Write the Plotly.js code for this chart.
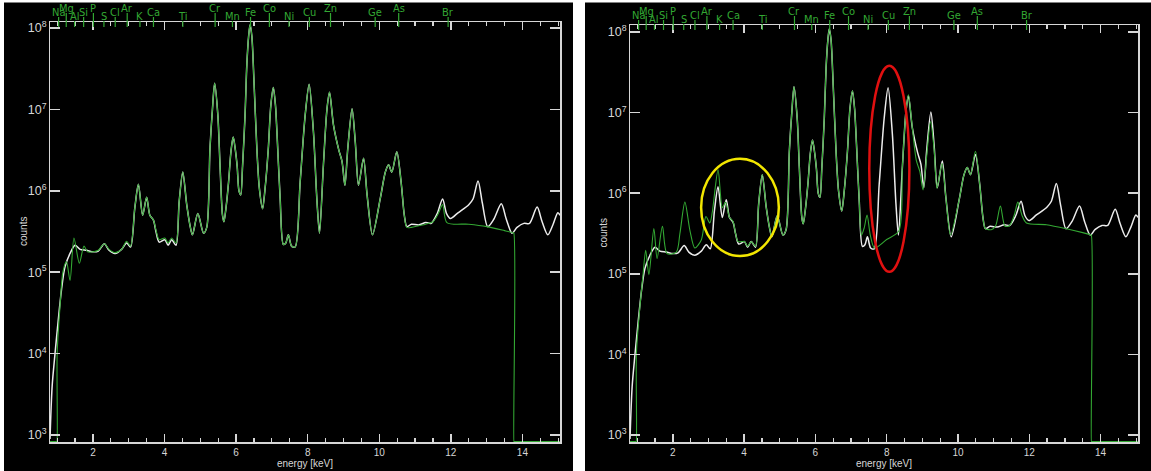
<!DOCTYPE html>
<html>
<head>
<meta charset="utf-8">
<script src="https://cdn.plot.ly/plotly-3.0.1.min.js"></script>
<style>
  html, body { margin: 0; padding: 0; background: #ffffff; }
  #chart { width: 1151px; height: 471px; }
</style>
</head>
<body>
<div id="chart"></div>
<script>
// Measured XRF spectrum (white), shared by both panels
const measuredEnergy = [
  0.80, 0.86, 0.94, 1.03, 1.12, 1.22, 1.36, 1.50, 1.64, 1.82, 2.01, 2.15, 2.32, 2.45, 2.62, 2.80, 2.94, 3.05,
  3.17, 3.27, 3.39, 3.50, 3.59, 3.69, 3.76, 3.85, 4.01, 4.10, 4.20, 4.32, 4.41, 4.51, 4.62, 4.71, 4.78, 4.93,
  5.09, 5.18, 5.27, 5.34, 5.40, 5.49, 5.55, 5.62, 5.66, 5.72, 5.79, 5.86, 5.92, 5.98, 6.03, 6.08, 6.13, 6.18,
  6.25, 6.30, 6.35, 6.39, 6.44, 6.50, 6.58, 6.65, 6.74, 6.81, 6.90, 6.97, 7.04, 7.10, 7.14, 7.23, 7.32, 7.39,
  7.46, 7.55, 7.65, 7.79, 7.93, 8.04, 8.16, 8.26, 8.33, 8.44, 8.54, 8.61, 8.72, 8.87, 8.96, 9.04, 9.12, 9.24,
  9.33, 9.42, 9.56, 9.66, 9.81, 10.03, 10.17, 10.26, 10.35, 10.49, 10.61, 10.70, 10.77, 10.90, 11.10, 11.30,
  11.45, 11.62, 11.77, 11.88, 11.99, 12.20, 12.50, 12.62, 12.76, 12.88, 13.03, 13.20, 13.41, 13.55, 13.71,
  13.85, 14.04, 14.20, 14.41, 14.55, 14.71, 14.85, 14.99, 15.05
];
const measuredCounts = [
  891, 3980, 1.0e4, 2.57e4, 6.03e4, 1.17e5, 1.70e5, 2.14e5, 1.91e5, 1.86e5, 1.78e5, 1.82e5, 2.24e5, 1.86e5, 1.70e5, 1.91e5, 2.29e5, 2.04e5,
  6.17e5, 1.20e6, 5.01e5, 8.32e5, 5.01e5, 4.37e5, 3.16e5, 2.34e5, 2.51e5, 2.14e5, 2.51e5, 2.14e5, 7.41e5, 1.70e6, 6.76e5, 3.80e5, 2.88e5, 5.25e5,
  3.02e5, 3.55e5, 3.31e6, 1.02e7, 2.09e7, 8.51e6, 2.09e6, 5.01e5, 4.17e5, 6.31e5, 1.29e6, 3.16e6, 4.57e6, 3.16e6, 2.0e6, 1.0e6, 8.91e5, 2.0e6,
  8.51e6, 3.55e7, 7.94e7, 1.10e8, 7.94e7, 2.19e7, 3.31e6, 1.07e6, 6.03e5, 1.07e6, 3.31e6, 1.12e7, 1.86e7, 1.12e7, 5.37e6, 8.13e5, 2.19e5, 2.29e5,
  2.88e5, 2.09e5, 2.04e5, 1.29e6, 8.51e6, 2.04e7, 5.37e6, 7.41e5, 3.02e5, 2.09e6, 1.02e7, 1.62e7, 6.46e6, 3.16e6, 2.29e6, 1.17e6, 3.31e6, 1.02e7,
  3.98e6, 1.17e6, 2.51e6, 8.91e5, 2.88e5, 8.13e5, 1.70e6, 2.09e6, 1.70e6, 3.02e6, 1.29e6, 5.01e5, 3.63e5, 3.89e5, 3.80e5, 4.07e5,
  3.98e5, 5.25e5, 7.94e5, 5.25e5, 4.57e5, 5.37e5, 6.76e5, 7.94e5, 1.32e6, 7.08e5, 3.63e5, 4.47e5, 6.92e5, 4.47e5, 3.02e5,
  3.55e5, 3.98e5, 3.98e5, 6.31e5, 4.17e5, 2.88e5, 3.80e5, 5.37e5, 5.01e5
];

// Model spectrum, first fit (green, left panel)
const fitAEnergy = [
  0.80, 0.99, 0.995, 1.00, 1.08, 1.16, 1.26, 1.36, 1.47, 1.62, 1.75, 1.85, 2.01, 2.15, 2.32, 2.45, 2.62, 2.80, 2.94, 3.05,
  3.17, 3.27, 3.39, 3.50, 3.59, 3.69, 3.76, 3.85, 4.01, 4.10, 4.20, 4.32, 4.41, 4.51, 4.62, 4.71, 4.78, 4.93,
  5.09, 5.18, 5.27, 5.34, 5.40, 5.49, 5.55, 5.62, 5.66, 5.72, 5.79, 5.86, 5.92, 5.98, 6.03, 6.08, 6.13, 6.18,
  6.25, 6.30, 6.35, 6.39, 6.44, 6.50, 6.58, 6.65, 6.74, 6.81, 6.90, 6.97, 7.04, 7.10, 7.14, 7.23, 7.32, 7.39,
  7.46, 7.55, 7.65, 7.79, 7.93, 8.04, 8.16, 8.26, 8.33, 8.44, 8.54, 8.61, 8.72, 8.87, 8.96, 9.04, 9.12, 9.24,
  9.33, 9.42, 9.56, 9.66, 9.81, 10.03, 10.17, 10.26, 10.35, 10.49, 10.61, 10.70, 10.77, 10.90, 11.10, 11.30,
  11.50, 11.65, 11.77, 11.89, 12.50, 13.01, 13.50, 13.74, 13.76, 13.763, 13.766, 13.78, 15.05
];
const fitACounts = [
  830, 830, 830, 1.0e4, 3.80e4, 1.0e5, 1.35e5, 7.94e4, 2.63e5, 1.29e5, 2.09e5, 1.78e5, 1.78e5, 1.86e5, 2.24e5, 1.91e5, 1.74e5, 1.91e5, 2.40e5, 2.09e5,
  6.17e5, 1.20e6, 5.01e5, 8.32e5, 5.01e5, 4.37e5, 3.31e5, 2.51e5, 2.63e5, 2.29e5, 2.63e5, 2.29e5, 7.41e5, 1.70e6, 6.76e5, 3.80e5, 2.88e5, 5.25e5,
  3.02e5, 3.55e5, 3.31e6, 1.02e7, 2.09e7, 8.51e6, 2.09e6, 5.01e5, 4.17e5, 6.31e5, 1.29e6, 3.16e6, 4.57e6, 3.16e6, 2.0e6, 1.0e6, 8.91e5, 2.0e6,
  8.51e6, 3.55e7, 7.94e7, 1.10e8, 7.94e7, 2.19e7, 3.31e6, 1.07e6, 6.03e5, 1.07e6, 3.31e6, 1.12e7, 1.86e7, 1.12e7, 5.37e6, 8.13e5, 2.19e5, 2.29e5,
  2.88e5, 2.09e5, 2.04e5, 1.29e6, 8.51e6, 2.04e7, 5.37e6, 7.41e5, 3.02e5, 2.09e6, 1.02e7, 1.62e7, 6.46e6, 3.16e6, 2.29e6, 1.17e6, 3.31e6, 1.02e7,
  3.98e6, 1.17e6, 2.51e6, 8.91e5, 2.88e5, 8.13e5, 1.70e6, 2.09e6, 1.70e6, 3.02e6, 1.29e6, 5.01e5, 3.55e5, 3.55e5, 3.72e5, 3.89e5,
  4.17e5, 5.25e5, 6.76e5, 4.07e5, 3.89e5, 3.63e5, 3.24e5, 3.05e5, 3.02e5, 830, 830, 830, 830
];

// Model spectrum, second fit (green, right panel): no Cu line, extra low-Z and 11-12 keV lines
const fitBEnergy = [
  0.80, 0.97, 0.975, 0.98, 1.07, 1.17, 1.24, 1.33, 1.47, 1.56, 1.71, 1.84, 2.10, 2.20, 2.34, 2.48, 2.62, 2.80, 2.93, 3.04,
  3.11, 3.27, 3.39, 3.48, 3.59, 3.69, 3.76, 3.83, 4.01, 4.10, 4.20, 4.32, 4.41, 4.51, 4.62, 4.71, 4.78, 4.93,
  5.09, 5.18, 5.27, 5.34, 5.40, 5.49, 5.55, 5.62, 5.66, 5.72, 5.79, 5.86, 5.92, 5.98, 6.03, 6.08, 6.13, 6.18,
  6.25, 6.30, 6.35, 6.39, 6.44, 6.50, 6.58, 6.65, 6.74, 6.81, 6.90, 6.97, 7.04, 7.10, 7.14, 7.23, 7.29, 7.37,
  7.45, 7.54, 7.66, 8.00, 8.34, 8.44, 8.54, 8.61, 8.72, 8.83, 8.93, 9.02, 9.12, 9.23,
  9.33, 9.41, 9.55, 9.66, 9.79, 10.03, 10.17, 10.26, 10.35, 10.49, 10.61, 10.70, 10.77, 10.95, 11.06, 11.19,
  11.32, 11.45, 11.58, 11.68, 11.80, 11.92, 12.48, 13.04, 13.50, 13.72, 13.74, 13.743, 13.746, 13.76, 15.05
];
const fitBCounts = [
  830, 830, 830, 1.02e4, 3.55e4, 1.02e5, 1.95e5, 9.77e4, 3.63e5, 1.55e5, 3.89e5, 1.78e5, 1.86e5, 3.16e5, 7.76e5, 3.47e5, 2.09e5, 2.63e5, 5.13e5, 4.27e5,
  5.89e5, 1.95e6, 6.61e5, 7.76e5, 5.01e5, 4.47e5, 3.16e5, 2.51e5, 2.51e5, 2.19e5, 2.51e5, 2.19e5, 7.41e5, 1.70e6, 6.76e5, 3.80e5, 2.88e5, 5.25e5,
  3.02e5, 3.55e5, 3.31e6, 1.02e7, 2.09e7, 8.51e6, 2.09e6, 5.01e5, 4.17e5, 6.31e5, 1.29e6, 3.16e6, 4.57e6, 3.16e6, 2.0e6, 1.0e6, 8.91e5, 2.0e6,
  8.51e6, 3.55e7, 7.94e7, 1.10e8, 7.94e7, 2.19e7, 3.31e6, 1.07e6, 6.03e5, 1.07e6, 3.31e6, 1.12e7, 1.86e7, 1.12e7, 5.37e6, 8.13e5, 3.02e5, 3.72e5,
  5.37e5, 3.02e5, 2.09e5, 2.66e5, 3.39e5, 2.09e6, 1.02e7, 1.66e7, 6.46e6, 2.57e6, 1.86e6, 1.10e6, 2.82e6, 7.76e6,
  3.55e6, 1.15e6, 2.34e6, 8.91e5, 3.02e5, 8.13e5, 1.70e6, 2.09e6, 1.70e6, 3.31e6, 1.29e6, 5.01e5, 3.63e5, 3.55e5, 3.98e5, 6.92e5,
  3.89e5, 3.98e5, 5.37e5, 7.76e5, 5.25e5, 4.27e5, 4.07e5, 3.63e5, 3.24e5, 3.05e5, 3.02e5, 830, 830, 830, 830
];

// Element line markers along the top axis
const elementNames = ['Na','Mg','Al','Si','P','S','Cl','Ar','K','Ca','Ti','Cr','Mn','Fe','Co','Ni','Cu','Zn','Ge','As','Br'];
const elementEnergies = [1.041, 1.254, 1.487, 1.740, 2.013, 2.307, 2.622, 2.957, 3.313, 3.691, 4.510, 5.414, 5.898, 6.403, 6.930, 7.477, 8.047, 8.638, 9.886, 10.543, 11.924];

const W = 1151, H = 471;
const GREEN = '#33a833';
const AXIS = '#d6d6d6';
const FONT = 'Liberation Sans, Arial, sans-serif';

// Stagger rows for element labels: 0 = highest, 2 = lowest
const labelRow = [1,0,2,1,0,2,1,0,2,1,2,0,2,1,0,2,1,0,1,0,1];
const rowOffset = [13, 9, 5];

// Panel geometry in pixels
const panels = [
  {xa: 'x', ya: 'y', left: 50, right: 560, top: 22, bottom: 442, yrange: [2.914, 8.074], fit: [fitAEnergy, fitACounts]},
  {xa: 'x2', ya: 'y2', left: 630, right: 1138, top: 25, bottom: 442, yrange: [2.913, 8.087], fit: [fitBEnergy, fitBCounts]}
];

const px2fx = p => p / W;
const py2fy = p => 1 - p / H;

const data = [];
const layout = {
  width: W, height: H,
  margin: {l: 0, r: 0, t: 0, b: 0},
  paper_bgcolor: '#000000',
  plot_bgcolor: '#000000',
  showlegend: false,
  shapes: [],
  annotations: []
};

// White frame strips around and between the panels
layout.shapes.push(
  {type: 'rect', xref: 'paper', yref: 'paper', x0: 0, x1: 1, y0: py2fy(2.5), y1: 1, fillcolor: '#ffffff', line: {width: 0}, layer: 'below'},
  {type: 'rect', xref: 'paper', yref: 'paper', x0: 0, x1: px2fx(4), y0: 0, y1: 1, fillcolor: '#ffffff', line: {width: 0}, layer: 'below'},
  {type: 'rect', xref: 'paper', yref: 'paper', x0: px2fx(573), x1: px2fx(585), y0: 0, y1: 1, fillcolor: '#ffffff', line: {width: 0}, layer: 'below'}
);

panels.forEach((p, i) => {
  const sfx = i === 0 ? '' : '2';
  layout['xaxis' + sfx] = {
    domain: [px2fx(p.left), px2fx(p.right)],
    anchor: p.ya,
    range: [0.8, 15.05],
    showgrid: false, zeroline: false,
    showline: true, linecolor: AXIS, linewidth: 1.5, mirror: 'ticks',
    ticks: 'inside', ticklen: 8, tickwidth: 1.5, tickcolor: AXIS,
    tick0: 0, dtick: 2,
    minor: {ticks: 'inside', tick0: 0, dtick: 0.5, ticklen: 4, tickwidth: 1.2, tickcolor: AXIS, showgrid: false},
    tickfont: {family: FONT, size: 10, color: AXIS},
    title: {text: 'energy [keV]', font: {family: FONT, size: 10, color: AXIS}, standoff: 2}
  };
  layout['yaxis' + sfx] = {
    domain: [py2fy(p.bottom), py2fy(p.top)],
    anchor: p.xa,
    type: 'log',
    range: p.yrange,
    dtick: 1,
    exponentformat: 'power',
    showgrid: false, zeroline: false,
    showline: true, linecolor: AXIS, linewidth: 1.5, mirror: 'ticks',
    ticks: 'inside', ticklen: 10, tickwidth: 1.5, tickcolor: AXIS,
    tickfont: {family: FONT, size: 10, color: AXIS}
  };

  // vertical axis caption, placed beside the tick labels
  layout.annotations.push({
    xref: 'paper', yref: 'paper',
    x: px2fx(p.left - 27), y: py2fy((p.top + p.bottom) / 2),
    text: 'counts', textangle: -90, showarrow: false,
    xanchor: 'center', yanchor: 'middle',
    font: {family: FONT, size: 10, color: AXIS}
  });

  data.push({
    x: measuredEnergy, y: measuredCounts, xaxis: p.xa, yaxis: p.ya,
    type: 'scatter', mode: 'lines',
    line: {color: '#ececec', width: 1.5, shape: 'spline', smoothing: 0.8},
    hoverinfo: 'skip'
  });
  data.push({
    x: p.fit[0], y: p.fit[1], xaxis: p.xa, yaxis: p.ya,
    type: 'scatter', mode: 'lines',
    line: {color: GREEN, width: 1.1, shape: 'spline', smoothing: 0.8},
    hoverinfo: 'skip'
  });

  // element markers: short green tick through the top axis and a staggered label
  elementNames.forEach((name, k) => {
    const cy = p.top - rowOffset[labelRow[k]];
    layout.shapes.push({
      type: 'line', xref: p.xa, yref: 'paper',
      x0: elementEnergies[k], x1: elementEnergies[k],
      y0: py2fy(p.top + 5), y1: py2fy(cy + 4),
      line: {color: GREEN, width: 1.2}
    });
    layout.annotations.push({
      xref: p.xa, yref: 'paper', x: elementEnergies[k], y: py2fy(cy),
      text: name, showarrow: false, xanchor: 'center', yanchor: 'middle',
      font: {family: 'Liberation Sans Narrow, DejaVu Sans Condensed, sans-serif', size: 11, color: GREEN}
    });
  });
});

// Highlight marks on the second panel
layout.shapes.push(
  {type: 'circle', xref: 'x2 domain', yref: 'y2 domain', x0: 0.140, x1: 0.293, y0: 0.446, y1: 0.679,
   line: {color: '#f2e600', width: 2.5}},
  {type: 'circle', xref: 'x2 domain', yref: 'y2 domain', x0: 0.471, x1: 0.550, y0: 0.408, y1: 0.902,
   line: {color: '#e01010', width: 2.5}}
);

Plotly.newPlot('chart', data, layout, {staticPlot: true, displayModeBar: false});
</script>
</body>
</html>
